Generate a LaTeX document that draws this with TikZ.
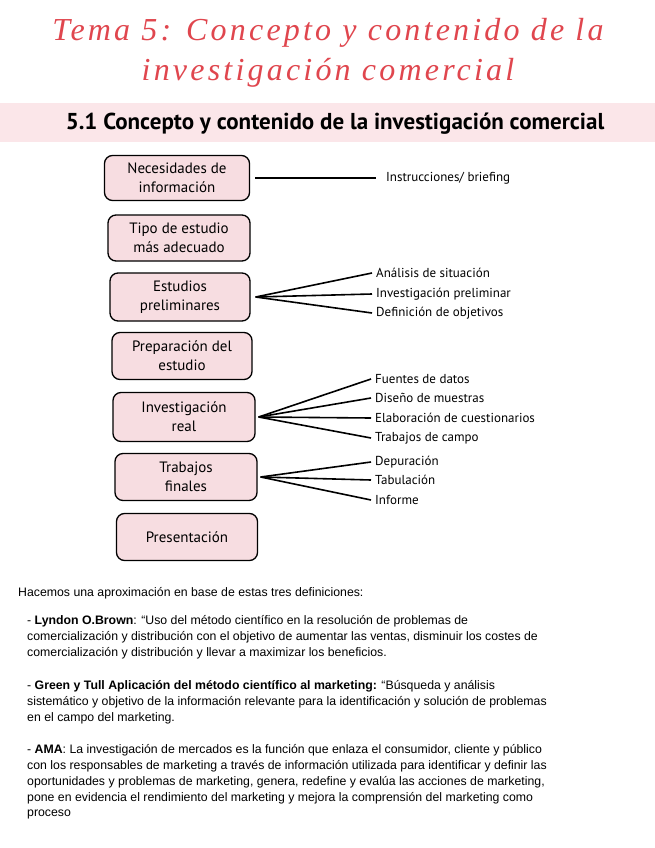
\documentclass[tikz,border=0pt]{standalone}
\usepackage{fontspec}
\setmainfont{Liberation Sans}
\newfontfamily\hand[LetterSpace=10]{Liberation Serif}
\newfontfamily\boxf{PT Sans}
\definecolor{pinkf}{HTML}{F7DDE1}
\definecolor{band}{HTML}{FBE6E9}
\definecolor{tred}{HTML}{E0464E}
\begin{document}
\begin{tikzpicture}[x=1pt,y=-1pt,
  stage/.style={draw=black,line width=1.3pt,fill=pinkf,rounded corners=8pt,align=center,font=\boxf\fontsize{15}{19}\selectfont,inner sep=0pt},
  lbl/.style={anchor=west,font=\boxf\fontsize{13}{14}\selectfont,inner sep=0pt},
  conn/.style={line width=1.6pt},
  body/.style={anchor=west,inner sep=0pt,font=\fontsize{12.3}{14}\selectfont}]
\useasboundingbox (0,0) rectangle (655,848);
\fill[white] (0,0) rectangle (655,848);
\node[font=\hand\itshape\fontsize{32}{34}\selectfont,text=tred] (t1) at (328,33) {Tema 5: Concepto y contenido de la};
\node[font=\hand\itshape\fontsize{32}{34}\selectfont,text=tred] (t2) at (328,73) {investigación comercial};
\fill[band] (0,103) rectangle (655,142);
\node[font=\boxf\bfseries\fontsize{23}{26}\selectfont] (h) at (335,124) {5.1 Concepto y contenido de la investigación comercial};
\node[stage,minimum width=145pt,minimum height=45pt] (b1) at (177,178) {Necesidades de\\información};
\node[stage,minimum width=142pt,minimum height=46pt] (b2) at (179,238) {Tipo de estudio\\más adecuado};
\node[stage,minimum width=140pt,minimum height=48pt] (b3) at (180,297) {Estudios\\preliminares};
\node[stage,minimum width=140pt,minimum height=47pt] (b4) at (182,356) {Preparación del\\estudio};
\node[stage,minimum width=142pt,minimum height=49pt] (b5) at (184,417) {Investigación\\real};
\node[stage,minimum width=142pt,minimum height=47pt] (b6) at (186,477) {Trabajos\\finales};
\node[stage,minimum width=141pt,minimum height=47pt] (b7) at (187,537) {Presentación};
\coordinate (e1) at (376,178);
\node[lbl] (l1) at (386,178) {Instrucciones/ briefing};
\draw[conn] (b1.east)++(5,0) -- (e1);
\node[lbl] (a1) at (376,273) {Análisis de situación};
\node[lbl] (a2) at (376,294) {Investigación preliminar};
\node[lbl] (a3) at (376,313) {Definición de objetivos};
\foreach \n in {a1,a2,a3} \draw[conn] ([xshift=5pt]b3.east) -- ([xshift=-4pt]\n.west);
\node[lbl] (c1) at (375,379) {Fuentes de datos};
\node[lbl] (c2) at (375,398) {Diseño de muestras};
\node[lbl] (c3) at (375,418) {Elaboración de cuestionarios};
\node[lbl] (c4) at (375,438) {Trabajos de campo};
\foreach \n in {c1,c2,c3,c4} \draw[conn] ([xshift=3pt]b5.east) -- ([xshift=-4pt]\n.west);
\node[lbl] (d1) at (375,462) {Depuración};
\node[lbl] (d2) at (375,480) {Tabulación};
\node[lbl] (d3) at (375,500) {Informe};
\foreach \n in {d1,d2,d3} \draw[conn] ([xshift=3pt]b6.east) -- ([xshift=-4pt]\n.west);
\node[body] (p0) at (18,593) {Hacemos una aproximación en base de estas tres definiciones:};
\node[body] (p1) at (27,621) {- \textbf{Lyndon O.Brown}: “Uso del método científico en la resolución de problemas de};
\node[body] (p2) at (27,637) {comercialización y distribución con el objetivo de aumentar las ventas, disminuir los costes de};
\node[body] (p3) at (27,653) {comercialización y distribución y llevar a maximizar los beneficios.};
\node[body] (q1) at (27,686) {- \textbf{Green y Tull Aplicación del método científico al marketing:} “Búsqueda y análisis};
\node[body] (q2) at (27,702) {sistemático y objetivo de la información relevante para la identificación y solución de problemas};
\node[body] (q3) at (27,718) {en el campo del marketing.};
\node[body] (r1) at (27,750) {- \textbf{AMA}: La investigación de mercados es la función que enlaza el consumidor, cliente y público};
\node[body] (r2) at (27,766) {con los responsables de marketing a través de información utilizada para identificar y definir las};
\node[body] (r3) at (27,782) {oportunidades y problemas de marketing, genera, redefine y evalúa las acciones de marketing,};
\node[body] (r4) at (27,798) {pone en evidencia el rendimiento del marketing y mejora la comprensión del marketing como};
\node[body] (r5) at (27,814) {proceso};
\end{tikzpicture}
\end{document}
